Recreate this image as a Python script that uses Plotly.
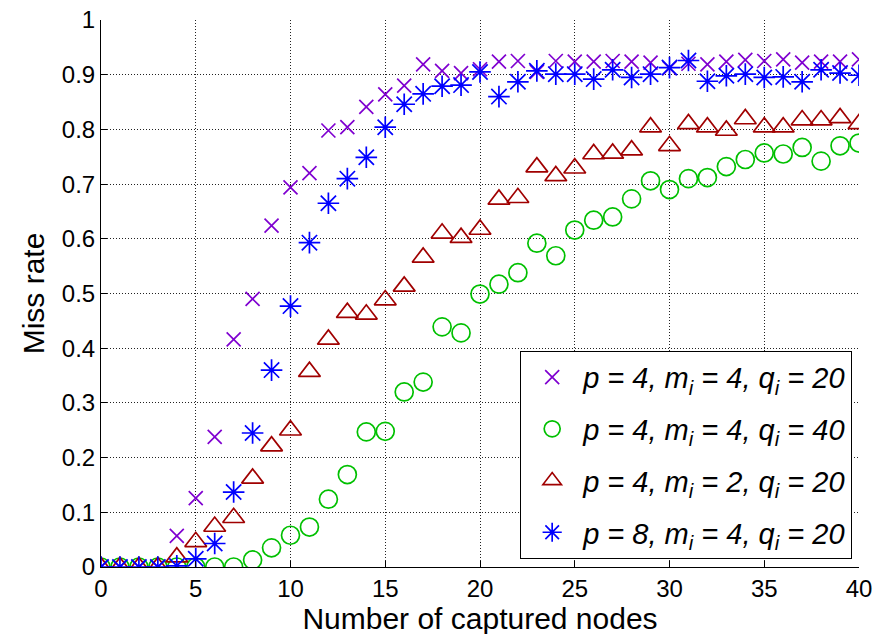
import plotly.graph_objects as go

nodes = list(range(0, 41))

miss_p4_m4_q20 = [0, 0, 0, 0, 0.057, 0.126, 0.238, 0.416, 0.490, 0.624,
                  0.694, 0.720, 0.798, 0.804, 0.841, 0.864, 0.880, 0.919, 0.907, 0.903,
                  0.910, 0.924, 0.925, 0.905, 0.925, 0.924, 0.924, 0.925, 0.924, 0.922,
                  0.912, 0.920, 0.919, 0.924, 0.927, 0.925, 0.928, 0.922, 0.924, 0.924,
                  0.928]

miss_p4_m4_q40 = [0, 0, 0, 0, 0, 0, 0, 0, 0.013, 0.035,
                  0.058, 0.073, 0.124, 0.169, 0.247, 0.248, 0.320, 0.338, 0.439, 0.428,
                  0.499, 0.517, 0.538, 0.592, 0.569, 0.616, 0.634, 0.640, 0.673, 0.706,
                  0.690, 0.710, 0.712, 0.732, 0.745, 0.757, 0.755, 0.767, 0.742, 0.770,
                  0.775]

miss_p4_m2_q20 = [0, 0, 0, 0, 0.018, 0.046, 0.074, 0.090, 0.162, 0.221,
                  0.250, 0.357, 0.416, 0.465, 0.462, 0.488, 0.513, 0.566, 0.610, 0.602,
                  0.617, 0.672, 0.675, 0.731, 0.715, 0.729, 0.755, 0.756, 0.762, 0.804,
                  0.770, 0.810, 0.804, 0.798, 0.819, 0.804, 0.804, 0.817, 0.817, 0.821,
                  0.810]

miss_p8_m4_q20 = [0, 0, 0, 0, 0.002, 0.015, 0.043, 0.137, 0.245, 0.360,
                  0.477, 0.593, 0.665, 0.710, 0.749, 0.804, 0.846, 0.865, 0.879, 0.881,
                  0.905, 0.860, 0.887, 0.907, 0.901, 0.901, 0.892, 0.909, 0.895, 0.901,
                  0.913, 0.926, 0.888, 0.898, 0.901, 0.895, 0.896, 0.887, 0.909, 0.903,
                  0.899]

labels = [
    "<i>p = 4, m<sub>i</sub> = 4, q<sub>i</sub> = 20</i>",
    "<i>p = 4, m<sub>i</sub> = 4, q<sub>i</sub> = 40</i>",
    "<i>p = 4, m<sub>i</sub> = 2, q<sub>i</sub> = 20</i>",
    "<i>p = 8, m<sub>i</sub> = 4, q<sub>i</sub> = 20</i>",
]

x_ticks = [0, 5, 10, 15, 20, 25, 30, 35, 40]
y_ticks = [0, 0.1, 0.2, 0.3, 0.4, 0.5, 0.6, 0.7, 0.8, 0.9, 1]

series = [
    (miss_p4_m4_q20, "x-thin-open", "#7F00D0", 14),
    (miss_p4_m4_q40, "circle-open", "#00C000", 18),
    (miss_p4_m2_q20, "triangle-up-open", "#A00000", 19),
    (miss_p8_m4_q20, "asterisk-open", "#0000FF", 18),
]

fig = go.Figure()
for i, (vals, sym, col, sz) in enumerate(series):
    fig.add_trace(go.Scatter(
        x=nodes, y=vals, mode="markers", name=labels[i],
        legendgroup=f"g{i}",
        marker=dict(symbol=sym, size=sz, color=col,
                    line=dict(color=col, width=1.7)),
    ))

base_font = dict(family="Liberation Sans, Arial, sans-serif", size=24, color="black")

# page body has an 8px default margin, so the figure is shifted by 8px
fig.update_layout(
    width=887, height=634,
    margin=dict(l=93, r=36, t=12, b=75),
    plot_bgcolor="white", paper_bgcolor="white",
    font=base_font,
    showlegend=True,
    legend=dict(
        x=0.991, y=0.015, xanchor="right", yanchor="bottom",
        bgcolor="white", bordercolor="black", borderwidth=1,
        font=dict(family="Liberation Sans, Arial, sans-serif", size=29, color="black"),
        tracegroupgap=11,
        itemwidth=52,
    ),
    xaxis=dict(
        range=[0, 40], tickvals=x_ticks, ticks="inside", ticklen=6,
        tickcolor="black", showline=True, linecolor="black", linewidth=1,
        showgrid=True, gridcolor="#222222", griddash="1px,2px", gridwidth=1,
        zeroline=False, mirror=False, automargin=False,
        ticklabeloverflow="allow",
        title=dict(text="Number of captured nodes", font=dict(size=30), standoff=0),
        tickfont=dict(size=24),
    ),
    yaxis=dict(
        range=[0, 1], tickvals=y_ticks, ticks="inside", ticklen=6,
        tickcolor="black", showline=True, linecolor="black", linewidth=1,
        showgrid=True, gridcolor="#222222", griddash="1px,2px", gridwidth=1,
        zeroline=False, mirror=False, automargin=False,
        ticklabeloverflow="allow",
        title=dict(text="Miss rate", font=dict(size=30), standoff=8),
        tickfont=dict(size=24),
    ),
)

fig.write_html("out.html")
